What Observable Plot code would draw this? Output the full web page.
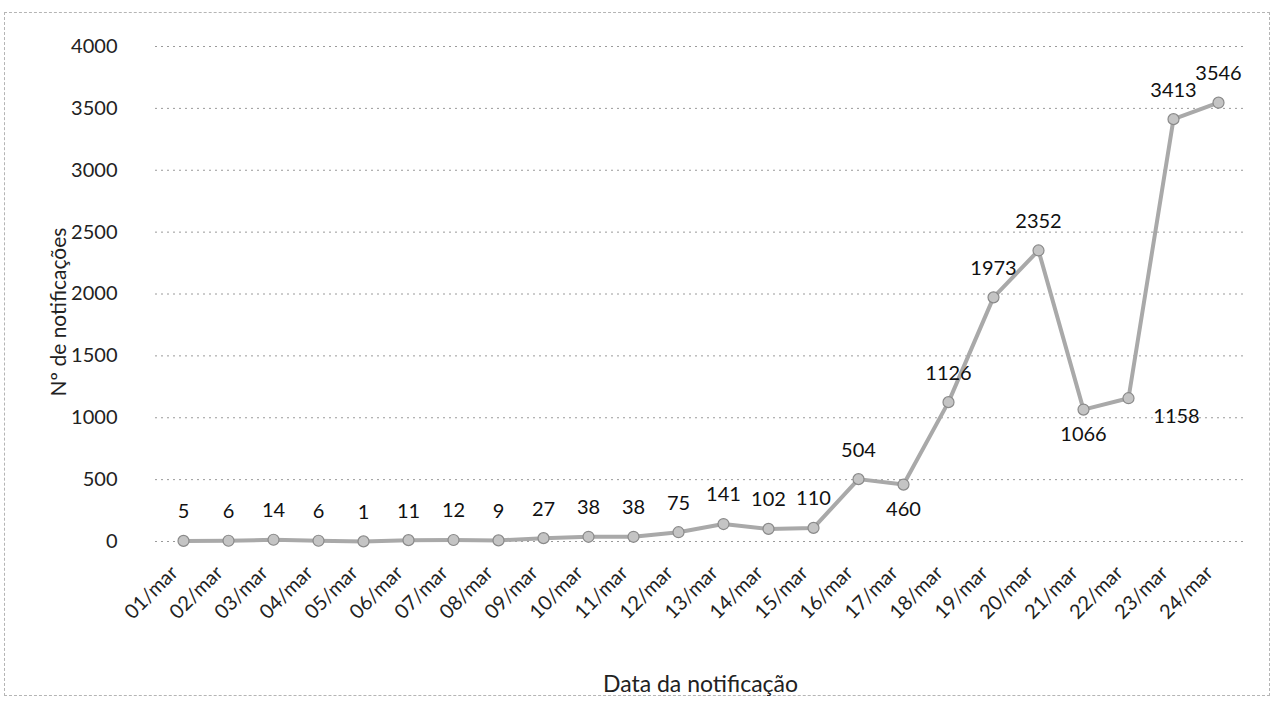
<!DOCTYPE html>
<html>
<head>
<meta charset="utf-8">
<script src="https://cdn.jsdelivr.net/npm/d3@7"></script>
<script src="https://cdn.jsdelivr.net/npm/@observablehq/plot@0.6"></script>
<style>
  html, body { margin: 0; padding: 0; background: #fff; }
  #wrap { position: relative; width: 1278px; height: 715px; overflow: hidden; }
  #frame { position: absolute; left: 4px; top: 12px; width: 1266px; height: 684px;
           border: 1px dashed #b5b5b5; box-sizing: border-box; pointer-events: none; }
  #chart { position: absolute; left: 0; top: 0; }
</style>
</head>
<body>
<div id="wrap"><div id="frame"></div><div id="chart"></div></div>
<script>
const dates = ["01/mar","02/mar","03/mar","04/mar","05/mar","06/mar","07/mar","08/mar","09/mar","10/mar","11/mar","12/mar",
               "13/mar","14/mar","15/mar","16/mar","17/mar","18/mar","19/mar","20/mar","21/mar","22/mar","23/mar","24/mar"];
const notificacoes = [5, 6, 14, 6, 1, 11, 12, 9, 27, 38, 38, 75, 141, 102, 110, 504, 460, 1126, 1973, 2352, 1066, 1158, 3413, 3546];
const yTicks = [0, 500, 1000, 1500, 2000, 2500, 3000, 3500, 4000];
const yTitle = "Nº de notificações";
const xTitle = "Data da notificação";

const data = dates.map((d, i) => ({date: d, value: notificacoes[i]}));
const belowSet = new Set(["17/mar", "21/mar"]);
const rightSet = new Set(["22/mar"]);
const above = data.filter(d => !belowSet.has(d.date) && !rightSet.has(d.date));
const below = data.filter(d => belowSet.has(d.date));
const right = data.filter(d => rightSet.has(d.date));

const font = "Lato, 'Open Sans', sans-serif";

const chart = Plot.plot({
  width: 1278,
  height: 715,
  marginLeft: 155,
  marginRight: 33,
  marginTop: 46,
  marginBottom: 174,
  style: {fontFamily: font, fontSize: "20px", color: "#222", background: "transparent"},
  x: {type: "point", domain: dates, padding: 0.5, label: null},
  y: {domain: [0, 4000], ticks: yTicks, label: null},
  marks: [
    Plot.ruleY(yTicks, {stroke: "#9a9a9a", strokeWidth: 1, strokeDasharray: "2,4"}),
    Plot.axisY({ticks: yTicks, tickSize: 0, tickPadding: 38, tickFormat: d => String(d), fontSize: 20, label: null}),
    Plot.axisX({tickSize: 0, tickRotate: -45, tickPadding: 28, dx: -9, fontSize: 20, label: null}),
    Plot.text([yTitle], {frameAnchor: "left", textAnchor: "middle", dx: -96, dy: 18, rotate: -90, fontSize: 21, fill: "#222"}),
    Plot.text([xTitle], {frameAnchor: "bottom", dy: 150, fontSize: 23, fill: "#222"}),
    Plot.line(data, {x: "date", y: "value", stroke: "#a9a9a9", strokeWidth: 4}),
    Plot.dot(data, {x: "date", y: "value", r: 5.5, fill: "#c4c4c4", stroke: "#8a8a8a", strokeWidth: 1.2}),
    Plot.text(above, {x: "date", y: "value", text: d => String(d.value), dy: -29, fontSize: 20, fill: "#111"}),
    Plot.text(below, {x: "date", y: "value", text: d => String(d.value), dy: 25, fontSize: 20, fill: "#111"}),
    Plot.text(right, {x: "date", y: "value", text: d => String(d.value), dx: 48, dy: 18, fontSize: 20, fill: "#111"})
  ]
});
document.getElementById("chart").appendChild(chart);
</script>
</body>
</html>
